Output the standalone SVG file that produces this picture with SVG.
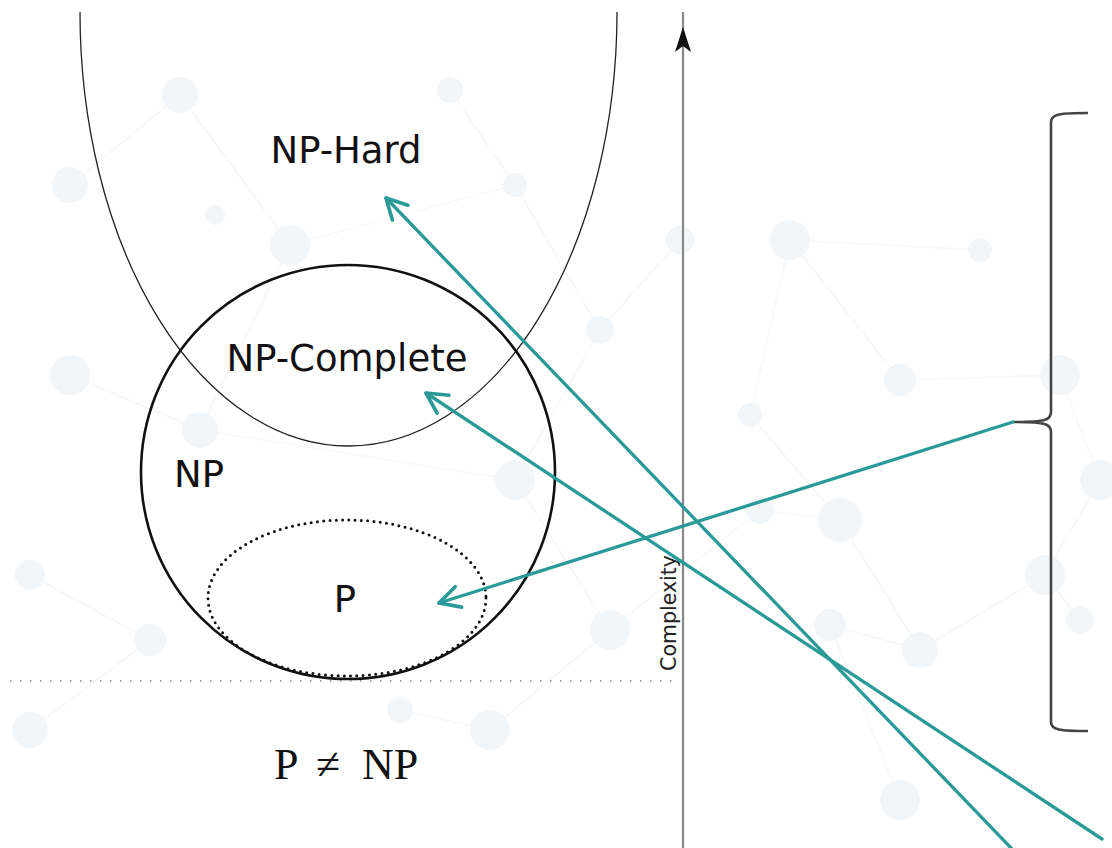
<svg xmlns="http://www.w3.org/2000/svg" width="1112" height="848" viewBox="0 0 1112 848">
  <style>
    .lbl { font-family: "DejaVu Sans", sans-serif; font-size: 37px; fill: #111; text-anchor: middle; }
    .math { font-family: "Liberation Serif", "DejaVu Serif", serif; font-size: 44px; fill: #111; }
    .bgdot { fill: #f3f6f8; }
    .bgline { stroke: #f5f7f8; stroke-width: 1.5; fill: none; }
    .teal { stroke: #2a9a99; stroke-width: 3.3; fill: none; stroke-linecap: round; }
  </style>
  <defs>
    <marker id="chev" markerUnits="userSpaceOnUse" markerWidth="30" markerHeight="30" viewBox="-24 -14 28 28" refX="0" refY="0" orient="auto">
      <path d="M -19,-10 L 0,0 L -19,10" fill="none" stroke="#2a9a99" stroke-width="3.4" stroke-linecap="round" stroke-linejoin="round"/>
    </marker>
  </defs>
  <rect width="1112" height="848" fill="#ffffff"/>

  <g id="background">
    <path class="bgline" d="M180,95 L290,245 L515,185 L450,90 M290,245 L200,430 L70,375 M515,185 L600,330 L515,480 L200,430 M515,480 L610,630 L490,730 L400,710 M610,630 L760,510 L840,520 L920,650 L1045,575 L1100,480 M840,520 L750,415 L790,240 L980,250 M1060,375 L900,380 L790,240 M1060,375 L1100,480 M920,650 L830,625 L900,800 M70,185 L180,95 M30,575 L150,640 L30,730 M680,240 L600,330 M1045,575 L1080,620"/>
    <circle class="bgdot" cx="180" cy="95" r="18"/>
    <circle class="bgdot" cx="290" cy="245" r="20"/>
    <circle class="bgdot" cx="215" cy="215" r="10"/>
    <circle class="bgdot" cx="515" cy="185" r="12"/>
    <circle class="bgdot" cx="450" cy="90" r="13"/>
    <circle class="bgdot" cx="70" cy="185" r="18"/>
    <circle class="bgdot" cx="70" cy="375" r="20"/>
    <circle class="bgdot" cx="30" cy="575" r="15"/>
    <circle class="bgdot" cx="200" cy="430" r="18"/>
    <circle class="bgdot" cx="515" cy="480" r="20"/>
    <circle class="bgdot" cx="600" cy="330" r="14"/>
    <circle class="bgdot" cx="610" cy="630" r="20"/>
    <circle class="bgdot" cx="840" cy="520" r="22"/>
    <circle class="bgdot" cx="920" cy="650" r="18"/>
    <circle class="bgdot" cx="1060" cy="375" r="20"/>
    <circle class="bgdot" cx="1045" cy="575" r="20"/>
    <circle class="bgdot" cx="790" cy="240" r="20"/>
    <circle class="bgdot" cx="760" cy="510" r="14"/>
    <circle class="bgdot" cx="830" cy="625" r="16"/>
    <circle class="bgdot" cx="1100" cy="480" r="20"/>
    <circle class="bgdot" cx="680" cy="240" r="14"/>
    <circle class="bgdot" cx="490" cy="730" r="20"/>
    <circle class="bgdot" cx="400" cy="710" r="13"/>
    <circle class="bgdot" cx="30" cy="730" r="18"/>
    <circle class="bgdot" cx="900" cy="800" r="20"/>
    <circle class="bgdot" cx="1080" cy="620" r="14"/>
    <circle class="bgdot" cx="980" cy="250" r="12"/>
    <circle class="bgdot" cx="150" cy="640" r="16"/>
    <circle class="bgdot" cx="900" cy="380" r="16"/>
    <circle class="bgdot" cx="750" cy="415" r="12"/>
  </g>

  <g id="np-hard">
    <path d="M 80,12 A 268.5 434 0 0 0 617,12" fill="none" stroke="#222" stroke-width="1.3"/>
    <text class="lbl" x="346" y="163">NP-Hard</text>
  </g>

  <g id="np">
    <circle cx="348" cy="472" r="207" fill="none" stroke="#111" stroke-width="2.6"/>
    <text class="lbl" x="199" y="487">NP</text>
  </g>

  <g id="np-complete">
    <text class="lbl" x="347" y="371">NP-Complete</text>
  </g>

  <g id="p">
    <ellipse cx="347" cy="598" rx="139" ry="78" fill="none" stroke="#111" stroke-width="3" stroke-dasharray="0 6.3" stroke-linecap="round"/>
    <text class="lbl" x="345" y="612">P</text>
  </g>

  <g id="baseline">
    <line x1="10" y1="681" x2="680" y2="681" stroke="#888" stroke-width="1.5" stroke-dasharray="1.5 8.5"/>
  </g>

  <g id="axis">
    <line x1="683" y1="12" x2="683" y2="848" stroke="#888" stroke-width="2.2"/>
    <path d="M 683,27 L 691,52 L 683,46 L 675,52 Z" fill="#111"/>
    <text transform="translate(676,613) rotate(-90)" font-family="DejaVu Sans, sans-serif" font-size="20.5" fill="#222" text-anchor="middle">Complexity</text>
  </g>

  <g id="p-ne-np">
    <text class="math" x="274" y="779">P</text>
    <text class="math" x="316" y="779">≠</text>
    <text class="math" x="362" y="779">NP</text>
  </g>

  <g id="brace">
    <path d="M 1088,113 C 1060,113 1051,114 1051,122 L 1051,412 C 1051,420 1046,422 1013,422 C 1046,422 1051,424 1051,432 L 1051,722 C 1051,730 1060,731 1088,731" fill="none" stroke="#444" stroke-width="2.6"/>
  </g>

  <g id="connectors">
    <line class="teal" x1="1013" y1="850" x2="386" y2="198" marker-end="url(#chev)"/>
    <line class="teal" x1="1102" y1="839" x2="426" y2="393" marker-end="url(#chev)"/>
    <line class="teal" x1="1013" y1="422" x2="439" y2="603" marker-end="url(#chev)"/>
  </g>
</svg>
